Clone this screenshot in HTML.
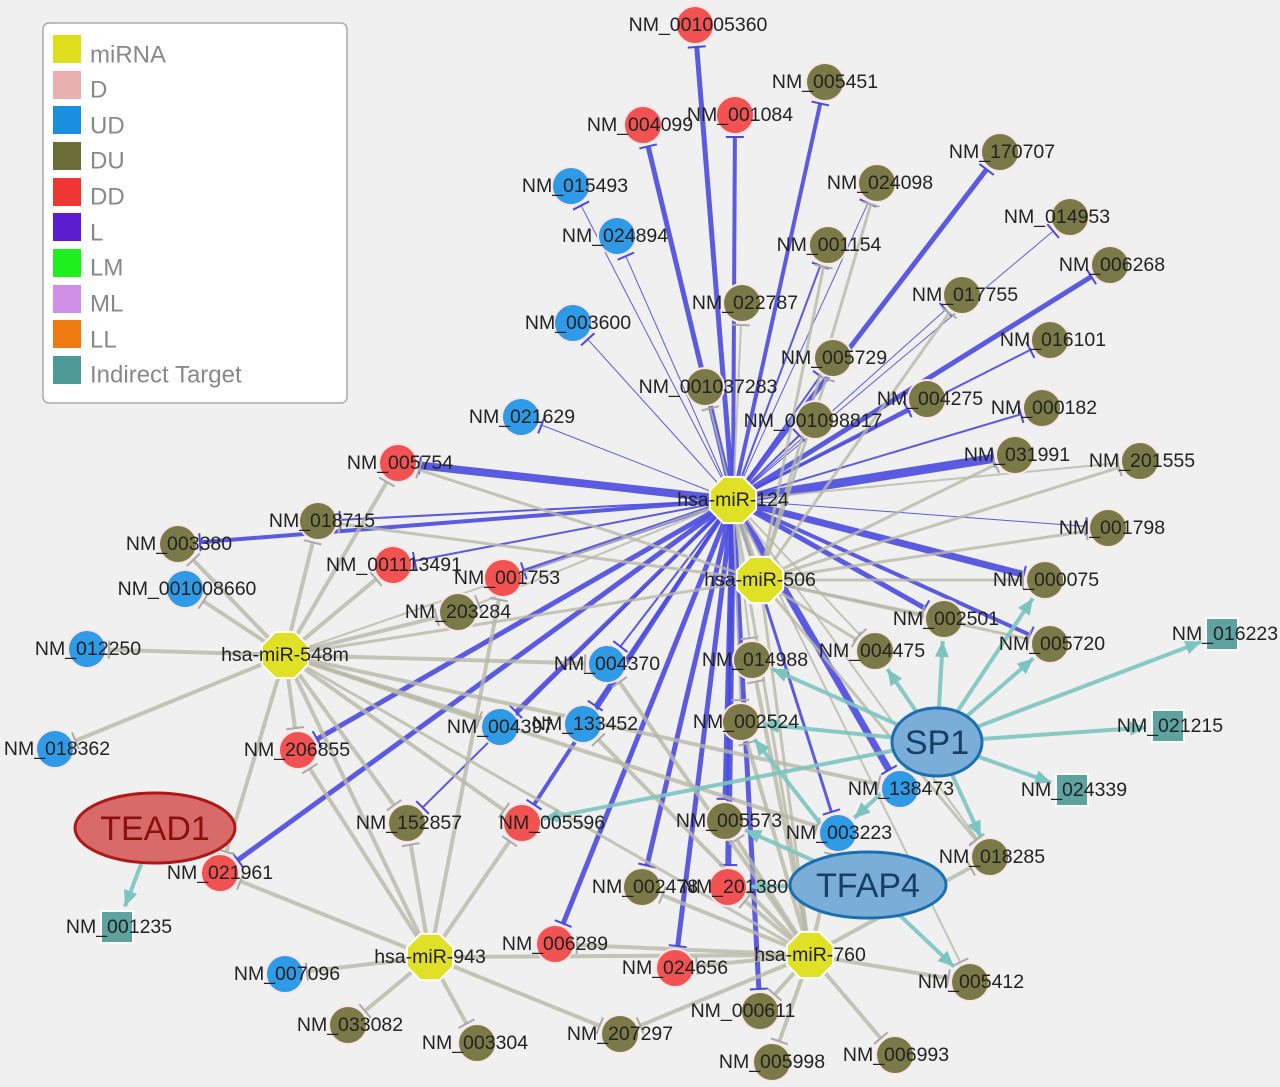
<!DOCTYPE html>
<html><head><meta charset="utf-8"><style>
html,body{margin:0;padding:0;background:#f0f0f0;}
svg{display:block;}
text{font-family:"Liberation Sans",sans-serif;}
.l{font-size:19.5px;fill:#222;text-anchor:middle;dominant-baseline:central;}
.lg{font-size:24px;fill:#888;dominant-baseline:central;}
</style></head><body>
<svg id="s" width="1280" height="1087" viewBox="0 0 1280 1087">
<rect width="1280" height="1087" fill="#f0f0f0"/>
<g id="edges"></g>
<g id="nodes"></g>
<g>
<ellipse cx="937" cy="742" rx="45" ry="34" fill="#7aaed8" stroke="#1a6fb0" stroke-width="3"/>
<text x="937" y="743" font-size="34" fill="#173f66" text-anchor="middle" dominant-baseline="central">SP1</text>
<ellipse cx="868" cy="885" rx="78" ry="33" fill="#7aaed8" stroke="#1a6fb0" stroke-width="3"/>
<text x="868" y="886" font-size="34" fill="#173f66" text-anchor="middle" dominant-baseline="central">TFAP4</text>
<ellipse cx="155" cy="828" rx="80" ry="35" fill="#d96a6a" stroke="#b01818" stroke-width="3"/>
<text x="155" y="829" font-size="34" fill="#8a1010" text-anchor="middle" dominant-baseline="central">TEAD1</text>
</g>
<g id="labels">
<text class="l" x="733" y="500">hsa-miR-124</text>
<text class="l" x="760" y="580">hsa-miR-506</text>
<text class="l" x="285" y="655">hsa-miR-548m</text>
<text class="l" x="430" y="957">hsa-miR-943</text>
<text class="l" x="810" y="955">hsa-miR-760</text>
<text class="l" x="698" y="25">NM_001005360</text>
<text class="l" x="825" y="82">NM_005451</text>
<text class="l" x="640" y="125">NM_004099</text>
<text class="l" x="740" y="115">NM_001084</text>
<text class="l" x="1002" y="152">NM_170707</text>
<text class="l" x="880" y="183">NM_024098</text>
<text class="l" x="575" y="186">NM_015493</text>
<text class="l" x="1057" y="217">NM_014953</text>
<text class="l" x="615" y="236">NM_024894</text>
<text class="l" x="829" y="245">NM_001154</text>
<text class="l" x="1112" y="265">NM_006268</text>
<text class="l" x="745" y="303">NM_022787</text>
<text class="l" x="965" y="295">NM_017755</text>
<text class="l" x="578" y="323">NM_003600</text>
<text class="l" x="1053" y="340">NM_016101</text>
<text class="l" x="834" y="358">NM_005729</text>
<text class="l" x="708" y="387">NM_001037283</text>
<text class="l" x="930" y="399">NM_004275</text>
<text class="l" x="1044" y="408">NM_000182</text>
<text class="l" x="813" y="421">NM_001098817</text>
<text class="l" x="522" y="417">NM_021629</text>
<text class="l" x="1017" y="455">NM_031991</text>
<text class="l" x="1142" y="461">NM_201555</text>
<text class="l" x="400" y="463">NM_005754</text>
<text class="l" x="1112" y="528">NM_001798</text>
<text class="l" x="322" y="521">NM_018715</text>
<text class="l" x="179" y="544">NM_003380</text>
<text class="l" x="394" y="565">NM_001113491</text>
<text class="l" x="507" y="578">NM_001753</text>
<text class="l" x="1046" y="580">NM_000075</text>
<text class="l" x="187" y="589">NM_001008660</text>
<text class="l" x="458" y="612">NM_203284</text>
<text class="l" x="946" y="619">NM_002501</text>
<text class="l" x="88" y="649">NM_012250</text>
<text class="l" x="1225" y="634">NM_016223</text>
<text class="l" x="1052" y="644">NM_005720</text>
<text class="l" x="607" y="664">NM_004370</text>
<text class="l" x="755" y="660">NM_014988</text>
<text class="l" x="872" y="651">NM_004475</text>
<text class="l" x="746" y="722">NM_002524</text>
<text class="l" x="1170" y="726">NM_021215</text>
<text class="l" x="500" y="727">NM_004397</text>
<text class="l" x="585" y="724">NM_133452</text>
<text class="l" x="297" y="750">NM_206855</text>
<text class="l" x="57" y="749">NM_018362</text>
<text class="l" x="901" y="789">NM_138473</text>
<text class="l" x="1074" y="790">NM_024339</text>
<text class="l" x="409" y="823">NM_152857</text>
<text class="l" x="552" y="823">NM_005596</text>
<text class="l" x="729" y="821">NM_005573</text>
<text class="l" x="839" y="833">NM_003223</text>
<text class="l" x="992" y="857">NM_018285</text>
<text class="l" x="220" y="873">NM_021961</text>
<text class="l" x="645" y="887">NM_002478</text>
<text class="l" x="735" y="887">NM_201380</text>
<text class="l" x="119" y="927">NM_001235</text>
<text class="l" x="555" y="944">NM_006289</text>
<text class="l" x="287" y="974">NM_007096</text>
<text class="l" x="675" y="968">NM_024656</text>
<text class="l" x="971" y="982">NM_005412</text>
<text class="l" x="743" y="1011">NM_000611</text>
<text class="l" x="350" y="1025">NM_033082</text>
<text class="l" x="620" y="1034">NM_207297</text>
<text class="l" x="475" y="1043">NM_003304</text>
<text class="l" x="772" y="1062">NM_005998</text>
<text class="l" x="896" y="1055">NM_006993</text>
</g>
<g>
<rect x="43" y="23" width="304" height="380" rx="6" fill="#fff" stroke="#aaa" stroke-width="1.5"/>
<rect x="53" y="35" width="28" height="28" fill="#dede1c"/><text class="lg" x="90" y="55">miRNA</text>
<rect x="53" y="71" width="28" height="28" fill="#e8b0ae"/><text class="lg" x="90" y="90">D</text>
<rect x="53" y="106" width="28" height="28" fill="#1a8fe0"/><text class="lg" x="90" y="126">UD</text>
<rect x="53" y="142" width="28" height="28" fill="#6b6e38"/><text class="lg" x="90" y="161">DU</text>
<rect x="53" y="178" width="28" height="28" fill="#f03535"/><text class="lg" x="90" y="197">DD</text>
<rect x="53" y="213" width="28" height="28" fill="#5a1ed0"/><text class="lg" x="90" y="233">L</text>
<rect x="53" y="249" width="28" height="28" fill="#1ef01e"/><text class="lg" x="90" y="268">LM</text>
<rect x="53" y="285" width="28" height="28" fill="#d090e8"/><text class="lg" x="90" y="304">ML</text>
<rect x="53" y="320" width="28" height="28" fill="#ee7a10"/><text class="lg" x="90" y="340">LL</text>
<rect x="53" y="356" width="28" height="28" fill="#4e9a98"/><text class="lg" x="90" y="375">Indirect Target</text>
</g>
</svg>
<script>
var N={
m124:[733,500,'h'],m506:[760,580,'h'],m548:[285,655,'h'],m943:[430,957,'h'],m760:[810,955,'h'],
a001005360:[695,25,'r'],a005451:[825,82,'o'],a004099:[643,125,'r'],a001084:[735,115,'r'],a170707:[1000,152,'o'],
a024098:[877,183,'o'],a015493:[571,186,'b'],a014953:[1070,217,'o'],a024894:[617,236,'b'],a001154:[828,245,'o'],
a006268:[1110,265,'o'],a022787:[742,303,'o'],a017755:[962,295,'o'],a003600:[573,323,'b'],a016101:[1050,340,'o'],
a005729:[833,358,'o'],a001037283:[705,387,'o'],a004275:[927,399,'o'],a000182:[1042,408,'o'],a001098817:[815,420,'o'],
a021629:[521,417,'b'],a031991:[1015,455,'o'],a201555:[1140,461,'o'],a005754:[398,463,'r'],a001798:[1108,528,'o'],
a018715:[318,521,'o'],a003380:[178,544,'o'],a001113491:[393,565,'r'],a001753:[503,578,'r'],a000075:[1045,580,'o'],
a001008660:[185,589,'b'],a203284:[458,612,'o'],a002501:[944,619,'o'],a012250:[87,649,'b'],a016223:[1222,634,'t'],
a005720:[1050,644,'o'],a004370:[607,664,'b'],a014988:[752,660,'o'],a004475:[875,651,'o'],a002524:[741,722,'o'],
a021215:[1168,726,'t'],a004397:[500,727,'b'],a133452:[583,724,'b'],a206855:[298,750,'r'],a018362:[55,749,'b'],
a138473:[900,789,'b'],a024339:[1072,790,'t'],a152857:[407,823,'o'],a005596:[522,823,'r'],a005573:[725,821,'o'],
a003223:[838,833,'b'],a018285:[990,857,'o'],a021961:[220,873,'r'],a002478:[642,887,'o'],a201380:[728,887,'r'],
a001235:[117,927,'t'],a006289:[555,944,'r'],a007096:[285,974,'b'],a024656:[675,968,'r'],a005412:[970,982,'o'],
a000611:[760,1011,'o'],a033082:[348,1025,'o'],a207297:[620,1034,'o'],a003304:[477,1043,'o'],a005998:[772,1062,'o'],a006993:[895,1055,'o'],
SP1:[937,742,'x'],TFAP4:[868,885,'x'],TEAD1:[155,828,'x']};
var B='#4a4ae0',G='#b8b8a8',T='#7cc4c0';
var E=[];
function e(a,b,c,w,k){E.push([a,b,c,w,k||'t']);}
[['001005360',5],['004099',5],['001084',4],['005451',4],['170707',5],['006268',5],['031991',9],['000075',7],['005754',8],
['003380',4],['001753',4],['002501',5],['005720',4],['206855',5],['021961',5],['152857',2],['004397',4],['133452',3],
['005596',4],['006289',5],['002478',5],['024656',5],['201380',6],['000611',5],['005573',6],['003223',3],['138473',7],
['004370',2],['021629',1],['003600',1],['024894',1],['015493',1],['001154',2],['016101',2],['004275',3],['000182',2],
['001798',1],['017755',1],['014953',1],['024098',1],['005729',2],['001098817',2],['018715',2],['001113491',2]].forEach(function(p){e('m124','a'+p[0],B,p[1]);});
['022787','001037283','014988','002524','201555','004475','018285','203284','005412'].forEach(function(p){e('m124','a'+p,G,2);});
e('m124','m506',G,6,'n');e('m124','m548',G,2,'n');e('m124','m760',G,3,'n');
['001798','000075','005720','002501','004475','031991','201555','018285','017755','001154','024098','005729','005754','018715'].forEach(function(p){e('m506','a'+p,G,3);});
e('m506','m548',G,3,'n');e('m506','m760',G,3,'n');
['018715','003380','001008660','012250','018362','206855','021961','152857','005596','203284','001113491','005754','004397','138473','003223','004370'].forEach(function(p){e('m548','a'+p,G,4);});
e('m548','m943',G,4,'n');e('m548','m760',G,3,'n');
['021961','007096','033082','003304','207297','206855','152857','005596','001753'].forEach(function(p){e('m943','a'+p,G,4);});
e('m943','m760',G,4,'n');
['005412','006993','005998','000611','207297','002478','024656','006289','201380','005573','002524','014988','004370','133452','018285','003223'].forEach(function(p){e('m760','a'+p,G,4);});
[['SP1','a016223'],['SP1','a021215'],['SP1','a024339'],['SP1','a005720'],['SP1','a000075'],['SP1','a002501'],['SP1','a004475'],['SP1','a002524'],['SP1','a014988'],['SP1','a005596'],['SP1','a018285'],
['TFAP4','a005412'],['TFAP4','a201380'],['TFAP4','a005573'],['TEAD1','a001235'],['SP1','a003223'],['TFAP4','a002524']].forEach(function(p){e(p[0],p[1],T,4,'a');});
var ns='http://www.w3.org/2000/svg';
function el(n,at,par){var x=document.createElementNS(ns,n);for(var k in at)x.setAttribute(k,at[k]);par.appendChild(x);return x;}
var ge=document.getElementById('edges'),gn=document.getElementById('nodes');
E.forEach(function(d){var A=N[d[0]],C=N[d[1]];var dx=C[0]-A[0],dy=C[1]-A[1],L=Math.sqrt(dx*dx+dy*dy),ux=dx/L,uy=dy/L;
var r=22;var ex=C[0]-ux*r,ey=C[1]-uy*r;
el('line',{x1:A[0],y1:A[1],x2:ex,y2:ey,stroke:d[2],'stroke-width':d[3],'stroke-opacity':d[2]==G?0.8:0.9},ge);
if(d[4]=='t'){var px=-uy*9,py=ux*9;el('line',{x1:ex+px,y1:ey+py,x2:ex-px,y2:ey-py,stroke:d[2]==B?B:'#aaa','stroke-width':2},ge);}
if(d[4]=='a'){var px=-uy*7,py=ux*7,bx=ex-ux*16,by=ey-uy*16;el('polygon',{points:ex+','+ey+' '+(bx+px)+','+(by+py)+' '+(bx-px)+','+(by-py),fill:T},ge);}
});
var col={r:'#f25252',o:'#7a7a48',b:'#2f9ae6',t:'#5fa3a0'};
for(var k in N){var d=N[k];if(d[2]=='x')continue;
if(d[2]=='h'){var p=[];for(var i=0;i<8;i++){var a=Math.PI/8+i*Math.PI/4;p.push((d[0]+25*Math.cos(a))+','+(d[1]+25*Math.sin(a)));}
el('polygon',{points:p.join(' '),fill:'#e0e026',stroke:'#fff','stroke-width':2},gn);}
else if(d[2]=='t'){el('rect',{x:d[0]-16,y:d[1]-16,width:32,height:32,fill:col.t,stroke:'#fff','stroke-width':2},gn);}
else el('circle',{cx:d[0],cy:d[1],r:19,fill:col[d[2]],stroke:'#fbe6e6','stroke-width':2},gn);}
</script>
</body></html>
